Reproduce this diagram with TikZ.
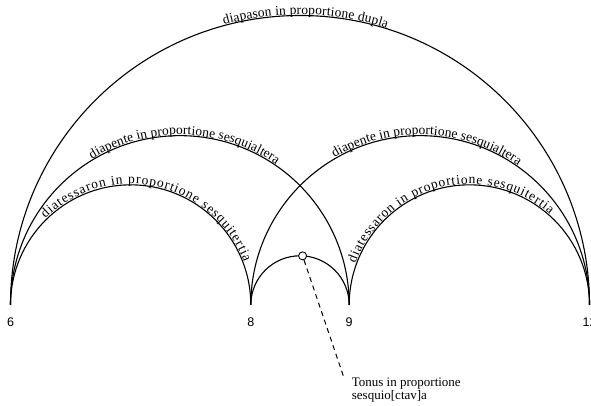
\documentclass[tikz,border=0pt]{standalone}
\usepackage{fontspec}
\setmainfont{Liberation Serif}
\newfontfamily\numfont{Liberation Sans}
\usetikzlibrary{positioning, calc, decorations.text}
\newcommand{\arcfont}{\fontsize{13.5}{15}\selectfont}
\tikzset{
  arcline/.style={line width=1.1pt, black},
  arclabel/.style={decorate, decoration={text along path, text align=fit to path,
    raise=1pt, text={|\arcfont|#1}}},
  numlabel/.style={font=\numfont\fontsize{12.5}{14}\selectfont, inner sep=0pt},
  marker/.style={circle, draw, line width=0.9pt, fill=white, minimum size=8pt, inner sep=0pt},
  leader/.style={line width=1pt, dash pattern=on 5pt off 4pt},
  tonuslabel/.style={align=left, font=\fontsize{13}{13}\selectfont,
    inner xsep=8pt, inner ysep=1pt}
}

\begin{document}
\begin{tikzpicture}[x=1pt, y=1pt]
  \useasboundingbox (0,0) rectangle (591,406);
  % the four terms, on a log scale
  \coordinate (n6) at (10.5,101);
  \coordinate (n8) at (250.8,101);
  \coordinate (n9) at (349.2,101);
  \coordinate (n12) at (589.5,101);
  \node[numlabel, below=12.7pt of n6] (l6) {6};
  \node[numlabel, below=12.7pt of n8] (l8) {8};
  \node[numlabel, below=12.7pt of n9] (l9) {9};
  \node[numlabel, below=12.7pt of n12] (l12) {12};
  % centres of the arcs
  \coordinate (m612) at ($(n6)!0.5!(n12)$);
  \coordinate (m69) at ($(n6)!0.5!(n9)$);
  \coordinate (m812) at ($(n8)!0.5!(n12)$);
  \coordinate (m68) at ($(n6)!0.5!(n8)$);
  \coordinate (m912) at ($(n9)!0.5!(n12)$);
  \coordinate (m89) at ($(n8)!0.5!(n9)$);

  \foreach \a/\b in {n6/n12, n6/n9, n8/n12, n6/n8, n9/n12, n8/n9}
    \draw[arcline] let \p1=($(\b)-(\a)$) in
      (\a) arc[start angle=180, end angle=0, radius=0.5*\x1];

  % texts along the arcs
  \path[arclabel={diapason in proportione dupla}] let \p1=($(n12)-(n6)$) in
    ($(m612)+(105.2:0.5*\x1)$) arc[start angle=105.2, end angle=72.6, radius=0.5*\x1];
  \path[arclabel={diapente in proportione sesquialtera}] let \p1=($(n9)-(n6)$) in
    ($(m69)+(121.1:0.5*\x1)$) arc[start angle=121.1, end angle=55.5, radius=0.5*\x1];
  \path[arclabel={diapente in proportione sesquialtera}] let \p1=($(n12)-(n8)$) in
    ($(m812)+(120.2:0.5*\x1)$) arc[start angle=120.2, end angle=55.1, radius=0.5*\x1];
  \path[arclabel={diatessaron in proportione sesquitertia}] let \p1=($(n8)-(n6)$) in
    ($(m68)+(134.7:0.5*\x1)$) arc[start angle=134.7, end angle=20.6, radius=0.5*\x1];
  \path[arclabel={diatessaron in proportione sesquitertia}] let \p1=($(n12)-(n9)$) in
    ($(m912)+(160.2:0.5*\x1)$) arc[start angle=160.2, end angle=48.3, radius=0.5*\x1];

  % the tone
  \node[marker] (tone) at ($(m89)+(87:49.2)$) {};
  \node[tonuslabel, anchor=north west] (tonus) at (343.7,29) {Tonus in proportione\\sesquio[ctav]a};
  \draw[leader] (tone) -- (tonus.north west);
\end{tikzpicture}
\end{document}
